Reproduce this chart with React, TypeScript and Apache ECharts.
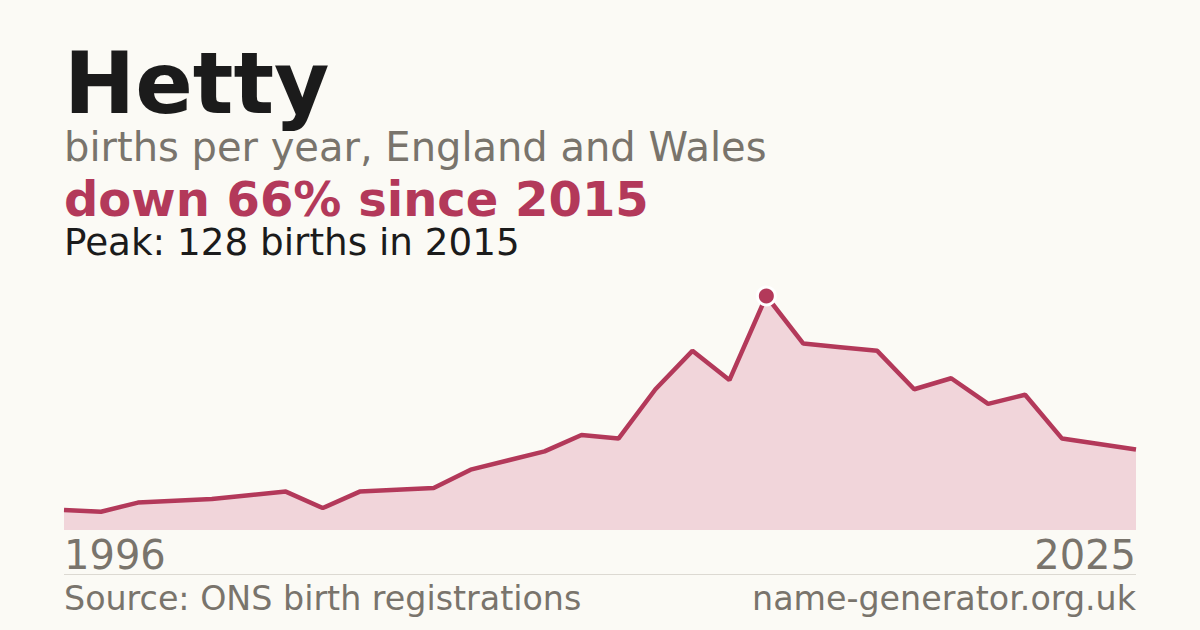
import React, { useEffect, useRef } from "react";
import * as echarts from "echarts";

const years: string[] = [
  "1996", "1997", "1998", "1999", "2000", "2001", "2002", "2003", "2004", "2005",
  "2006", "2007", "2008", "2009", "2010", "2011", "2012", "2013", "2014", "2015",
  "2016", "2017", "2018", "2019", "2020", "2021", "2022", "2023", "2024", "2025",
];
const births: number[] = [
  11, 10, 15, 16, 17, 19, 21, 12, 21, 22,
  23, 33, 38, 43, 52, 50, 77, 98, 82, 128,
  102, 100, 98, 77, 83, 69, 74, 50, 47, 44,
];

const NAME = "Hetty";
const SUBTITLE = "births per year, England and Wales";
const SOURCE = "Source: ONS birth registrations";
const SITE = "name-generator.org.uk";

const RED = "#b3395a";
const GRAY = "#79746c";
const INK = "#1b1b1b";
const BG = "#fbfaf5";
const FONT = "DejaVu Sans";

export default function App() {
  const ref = useRef<HTMLDivElement>(null);
  useEffect(() => {
    if (!ref.current) return;
    const chart = echarts.init(ref.current, null, { renderer: "svg" });
    const peak = Math.max(...births);
    const peakIdx = births.indexOf(peak);
    const last = births[births.length - 1];
    const down = Math.round((1 - last / peak) * 100);
    const lastIdx = years.length - 1;

    chart.setOption({
      animation: false,
      backgroundColor: BG,
      grid: { left: 64, right: 64, top: 296, bottom: 100 },
      xAxis: {
        type: "category",
        data: years,
        boundaryGap: false,
        axisLine: { show: false },
        axisTick: { show: false },
        splitLine: { show: false },
        axisLabel: {
          interval: (i: number) => i === 0 || i === lastIdx,
          showMinLabel: true,
          showMaxLabel: true,
          alignMinLabel: "left",
          alignMaxLabel: "right",
          fontFamily: FONT,
          fontSize: 40,
          color: GRAY,
          margin: 5,
        },
      },
      yAxis: {
        type: "value",
        min: 0,
        max: peak,
        show: false,
        splitLine: { show: false },
      },
      series: [
        {
          type: "line",
          data: births,
          symbol: "none",
          clip: false,
          lineStyle: { color: RED, width: 4.5 },
          areaStyle: { color: "#f1d5da", opacity: 1 },
          z: 2,
        },
        {
          type: "scatter",
          data: [[peakIdx, peak]],
          symbol: "circle",
          symbolSize: 18,
          clip: false,
          itemStyle: { color: RED, opacity: 1, borderColor: "#ffffff", borderWidth: 3 },
          z: 3,
        },
      ],
      graphic: [
        {
          type: "text",
          left: 64,
          top: 41,
          style: { text: NAME, fontFamily: FONT, fontWeight: "bold", fontSize: 85, lineHeight: 80, fill: INK },
        },
        {
          type: "text",
          left: 64,
          top: 127,
          style: { text: SUBTITLE, fontFamily: FONT, fontSize: 40, lineHeight: 40, fill: GRAY },
        },
        {
          type: "text",
          left: 64,
          top: 175,
          style: {
            text: `down ${down}% since ${years[peakIdx]}`,
            fontFamily: FONT,
            fontWeight: "bold",
            fontSize: 48,
            lineHeight: 38,
            fill: RED,
          },
        },
        {
          type: "text",
          left: 64,
          top: 223,
          style: {
            text: `Peak: ${peak} births in ${years[peakIdx]}`,
            fontFamily: FONT,
            fontSize: 37.3,
            lineHeight: 37,
            fill: INK,
          },
        },
        {
          type: "line",
          shape: { x1: 64, y1: 574.5, x2: 1136, y2: 574.5 },
          style: { stroke: "#dcd9d2", lineWidth: 1 },
        },
        {
          type: "text",
          left: 64,
          top: 582,
          style: { text: SOURCE, fontFamily: FONT, fontSize: 33.3, lineHeight: 33, fill: GRAY },
        },
        {
          type: "text",
          right: 64,
          top: 582,
          style: { text: SITE, fontFamily: FONT, fontSize: 33.3, lineHeight: 33, fill: GRAY },
        },
      ],
    });
    return () => chart.dispose();
  }, []);
  return (
    <div
      ref={ref}
      style={{ position: "absolute", left: 0, top: 0, width: 1200, height: 630 }}
    />
  );
}
